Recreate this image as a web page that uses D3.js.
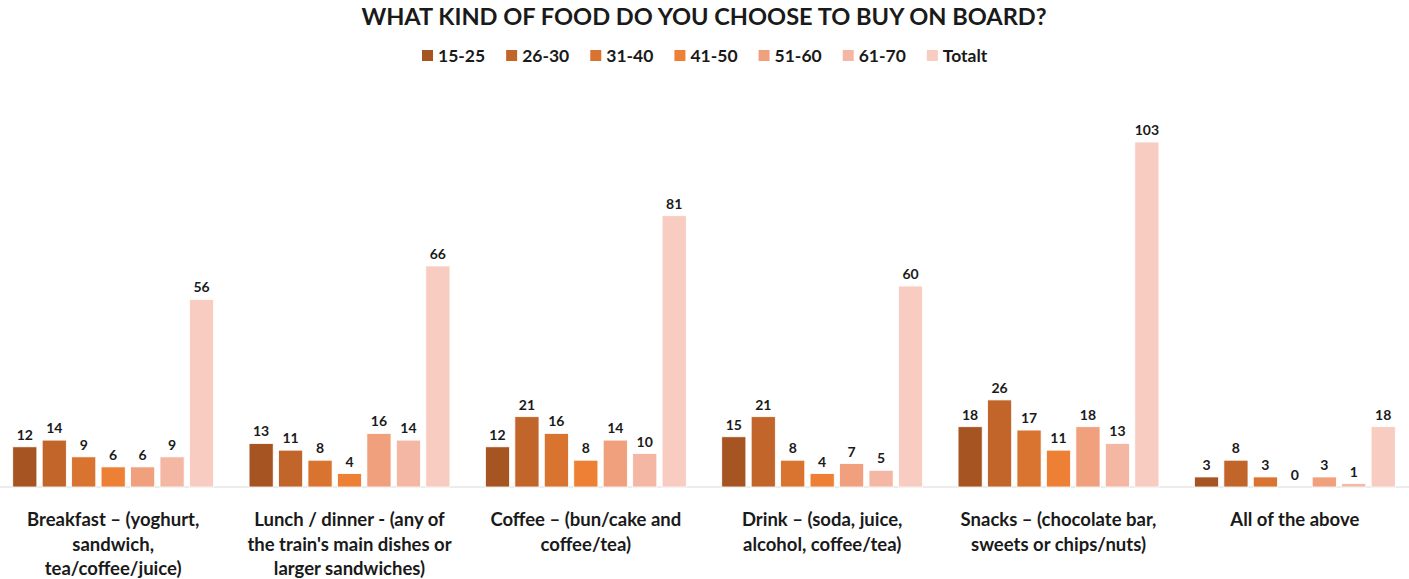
<!DOCTYPE html>
<html>
<head>
<meta charset="utf-8">
<script src="https://cdn.jsdelivr.net/npm/d3@7"></script>
<style>
  body { margin: 0; background: #fff; }
  text { font-family: Lato, "Open Sans", sans-serif; font-weight: 700; fill: #1a1a1a; }
</style>
</head>
<body>
<svg id="drawing_region"></svg>
<script>
const categories = [
    ["Breakfast \u2013 (yoghurt,", "sandwich,", "tea/coffee/juice)"],
    ["Lunch / dinner - (any of", "the train's main dishes or", "larger sandwiches)"],
    ["Coffee \u2013 (bun/cake and", "coffee/tea)"],
    ["Drink \u2013 (soda, juice,", "alcohol, coffee/tea)"],
    ["Snacks \u2013 (chocolate bar,", "sweets or chips/nuts)"],
    ["All of the above"]
];
const series = ["15-25", "26-30", "31-40", "41-50", "51-60", "61-70", "Totalt"];
const colors = ["#a65522", "#c2652a", "#d97330", "#ee8035", "#f0a07c", "#f4b7a3", "#f8ccc0"];

const v15_25 = [12, 13, 12, 15, 18, 3];
const v26_30 = [14, 11, 21, 21, 26, 8];
const v31_40 = [9, 8, 16, 8, 17, 3];
const v41_50 = [6, 4, 8, 4, 11, 0];
const v51_60 = [6, 16, 14, 7, 18, 3];
const v61_70 = [9, 14, 10, 5, 13, 1];
const totalt = [56, 66, 81, 60, 103, 18];
const values = [v15_25, v26_30, v31_40, v41_50, v51_60, v61_70, totalt];

const width = 1409, height = 579;
const svg = d3.select('#drawing_region')
    .attr('width', width)
    .attr('height', height);

const x0 = d3.scaleBand()
    .domain(d3.range(categories.length))
    .range([-5, 1413])
    .paddingInner(0.15)
    .paddingOuter(0.075);

const x1 = d3.scaleBand()
    .domain(series)
    .range([0, x0.bandwidth()])
    .paddingInner(0.18);

const y = d3.scaleLinear()
    .domain([0, 103])
    .range([487, 142]);

// baseline
svg.append('line')
    .attr('x1', 0).attr('x2', width)
    .attr('y1', y(0)).attr('y2', y(0))
    .attr('stroke', '#d9d9d9')
    .attr('stroke-width', 1);

const groups = svg.selectAll('g.cat')
    .data(categories)
    .enter()
    .append('g')
    .attr('class', 'cat')
    .attr('transform', (d, i) => `translate(${x0(i)},0)`);

groups.each(function(d, i) {
    const g = d3.select(this);
    const rows = series.map((s, k) => ({ s: s, k: k, v: values[k][i] }));

    g.selectAll('rect')
        .data(rows)
        .enter()
        .append('rect')
        .attr('x', r => x1(r.s))
        .attr('y', r => y(r.v))
        .attr('width', x1.bandwidth())
        .attr('height', r => y(0) - y(r.v))
        .attr('fill', r => colors[r.k])
        .attr('stroke', '#fff')
        .attr('stroke-width', 0.8);

    g.selectAll('text.val')
        .data(rows)
        .enter()
        .append('text')
        .attr('class', 'val')
        .attr('x', r => x1(r.s) + x1.bandwidth() / 2)
        .attr('y', r => y(r.v) - 7)
        .attr('text-anchor', 'middle')
        .attr('font-size', '14px')
        .text(r => r.v);

    const label = g.append('text')
        .attr('text-anchor', 'middle')
        .attr('font-size', '18.5px')
        .attr('y', 526);
    label.selectAll('tspan')
        .data(d)
        .enter()
        .append('tspan')
        .attr('x', x0.bandwidth() / 2)
        .attr('dy', (t, j) => j === 0 ? 0 : 24.5)
        .text(t => t);
});

// title
svg.append('text')
    .attr('x', 704)
    .attr('y', 25)
    .attr('text-anchor', 'middle')
    .attr('font-size', '23.6px')
    .text('WHAT KIND OF FOOD DO YOU CHOOSE TO BUY ON BOARD?');

// legend
const legend = svg.append('g');
let lx = 422;
series.forEach((s, k) => {
    legend.append('rect')
        .attr('x', lx)
        .attr('y', 50)
        .attr('width', 11)
        .attr('height', 11)
        .attr('fill', colors[k]);
    const t = legend.append('text')
        .attr('x', lx + 16)
        .attr('y', 62)
        .attr('font-size', '17.5px')
        .text(s);
    lx += 16 + t.node().getComputedTextLength() + 21;
});
</script>
</body>
</html>
